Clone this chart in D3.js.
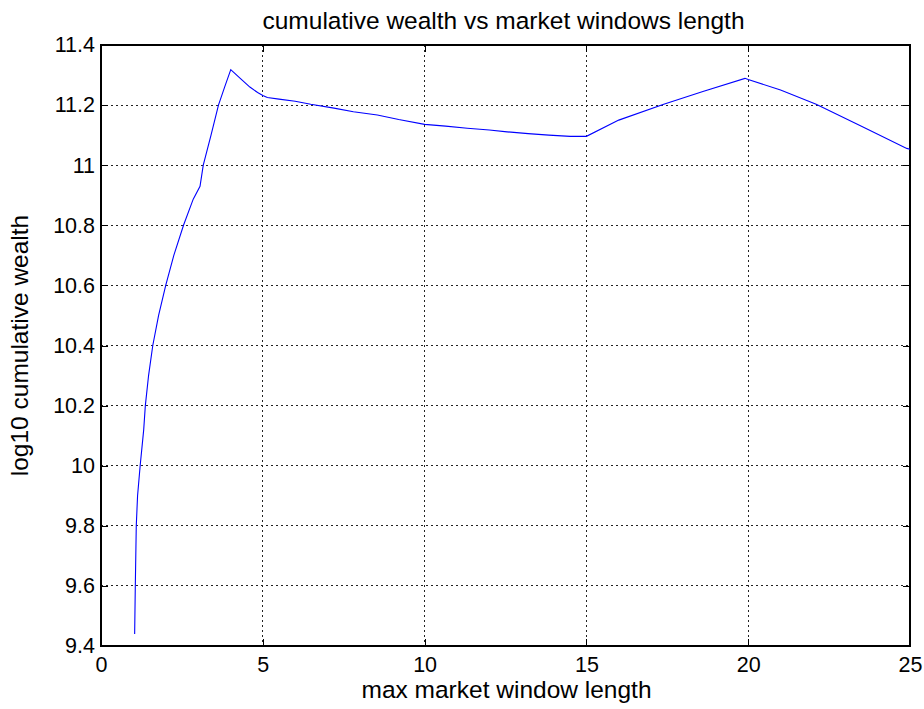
<!DOCTYPE html>
<html>
<head>
<meta charset="utf-8">
<script src="https://cdn.jsdelivr.net/npm/d3@7"></script>
<style>
  html, body { margin: 0; padding: 0; background: #fff; }
  svg { display: block; }
  text { font-family: "Liberation Sans", Arial, Helvetica, sans-serif; fill: #000; }
</style>
</head>
<body>
<svg id="chart" width="924" height="709"></svg>
<script>
// Max market window length (x) and log10 cumulative wealth (y)
const windowLength = [
  1.04, 1.06, 1.09, 1.13, 1.21, 1.32, 1.37, 1.47, 1.60, 1.78,
  2.00, 2.25, 2.55, 2.85, 3.06, 3.16, 3.40, 3.63, 3.82, 4.01,
  4.32, 4.60, 4.84, 5.00, 5.14, 5.50, 6.00, 6.48, 7.20, 7.80,
  8.54, 9.20, 10.00, 10.65, 11.32, 12.00, 12.55, 13.20, 13.84, 14.50,
  15.00, 16.00, 17.39, 18.60, 19.90, 20.00, 21.00, 22.10, 23.50, 24.90,
  25.00
];
const logWealth = [
  9.44, 9.60, 9.80, 9.90, 10.00, 10.12, 10.20, 10.30, 10.40, 10.50,
  10.60, 10.70, 10.80, 10.887, 10.93, 11.00, 11.10, 11.20, 11.26, 11.318,
  11.287, 11.26, 11.242, 11.232, 11.225, 11.22, 11.213, 11.203, 11.19, 11.178,
  11.167, 11.152, 11.136, 11.13, 11.123, 11.117, 11.111, 11.105, 11.10, 11.096,
  11.096, 11.15, 11.203, 11.245, 11.289, 11.285, 11.25, 11.203, 11.13, 11.056,
  11.053
];
const xTicks = [0, 5, 10, 15, 20, 25];
const yTicks = [9.4, 9.6, 9.8, 10, 10.2, 10.4, 10.6, 10.8, 11, 11.2, 11.4];

const titleText = "cumulative wealth vs market windows length";
const xLabelText = "max market window length";
const yLabelText = "log10 cumulative wealth";

const svg = d3.select("#chart");
const plotLeft = 101, plotRight = 910, plotTop = 45, plotBottom = 646;
const plotW = plotRight - plotLeft, plotH = plotBottom - plotTop;

const x = d3.scaleLinear().domain([0, 25]).range([plotLeft, plotRight]);
const y = d3.scaleLinear().domain([9.4, 11.4]).range([plotBottom, plotTop]);

const tickFs = 21.5;
const labelFs = 24.5;

// grid lines
const grid = svg.append("g").attr("stroke", "#222").attr("stroke-width", 1)
  .attr("stroke-dasharray", "2,3").attr("shape-rendering", "crispEdges");
xTicks.slice(1, -1).forEach(t => {
  grid.append("line").attr("x1", x(t)).attr("x2", x(t)).attr("y1", plotTop).attr("y2", plotBottom);
});
yTicks.slice(1, -1).forEach(t => {
  grid.append("line").attr("x1", plotLeft).attr("x2", plotRight).attr("y1", y(t)).attr("y2", y(t));
});

// axes with inward ticks on all four sides
const tickLen = 7;
const axB = svg.append("g").attr("transform", `translate(0,${plotBottom})`)
  .call(d3.axisBottom(x).tickValues(xTicks).tickSizeInner(-tickLen).tickSizeOuter(0).tickPadding(11).tickFormat(d3.format("d")));
const axT = svg.append("g").attr("transform", `translate(0,${plotTop})`)
  .call(d3.axisTop(x).tickValues(xTicks).tickSizeInner(-tickLen).tickSizeOuter(0).tickFormat(""));
const axL = svg.append("g").attr("transform", `translate(${plotLeft},0)`)
  .call(d3.axisLeft(y).tickValues(yTicks).tickSizeInner(-tickLen).tickSizeOuter(0).tickPadding(6).tickFormat(d => d3.format("~g")(d)));
const axR = svg.append("g").attr("transform", `translate(${plotRight},0)`)
  .call(d3.axisRight(y).tickValues(yTicks).tickSizeInner(-tickLen).tickSizeOuter(0).tickFormat(""));

[axB, axT, axL, axR].forEach(a => {
  a.select(".domain").remove();
  a.selectAll("line").attr("stroke", "#000").attr("shape-rendering", "crispEdges");
  a.selectAll("text").style("font-size", tickFs + "px")
    .style("font-family", '"Liberation Sans", Arial, sans-serif').attr("fill", "#000");
});
axB.selectAll("text").attr("dy", "0.71em");

// frame
svg.append("rect").attr("x", plotLeft).attr("y", plotTop).attr("width", plotW).attr("height", plotH)
  .attr("fill", "none").attr("stroke", "#000").attr("stroke-width", 1.3).attr("shape-rendering", "crispEdges");

// data line
const pts = windowLength.map((v, i) => [v, logWealth[i]]);
svg.append("path").datum(pts)
  .attr("fill", "none").attr("stroke", "#0000ff").attr("stroke-width", 1.1)
  .attr("d", d3.line().x(d => x(d[0])).y(d => y(d[1])));

// title and labels
svg.append("text").attr("x", (plotLeft + plotRight) / 2 - 2).attr("y", 29)
  .attr("text-anchor", "middle").style("font-size", labelFs + "px").text(titleText);
svg.append("text").attr("x", (plotLeft + plotRight) / 2 + 1).attr("y", 698)
  .attr("text-anchor", "middle").style("font-size", labelFs + "px").text(xLabelText);
svg.append("text").attr("transform", `translate(28,${(plotTop + plotBottom) / 2}) rotate(-90)`)
  .attr("text-anchor", "middle").style("font-size", labelFs + "px").text(yLabelText);
</script>
</body>
</html>
